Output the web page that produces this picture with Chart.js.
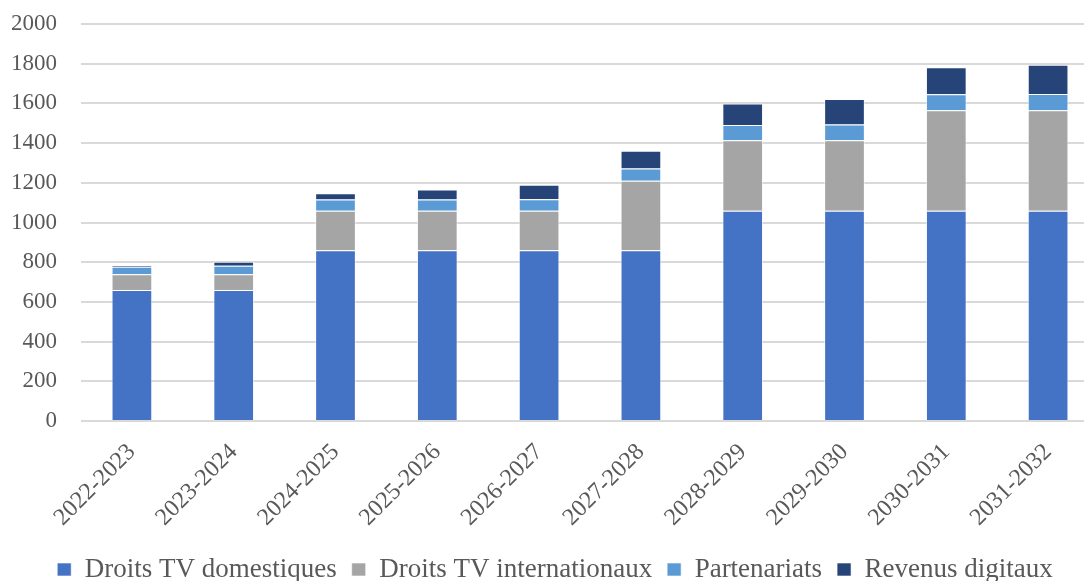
<!DOCTYPE html>
<html>
<head>
<meta charset="utf-8">
<script src="https://cdn.jsdelivr.net/npm/chart.js@4"></script>
<style>
  html, body { margin: 0; padding: 0; background: #fff; overflow: hidden; }
  #wrap { position: relative; width: 1099px; height: 593px; }
</style>
</head>
<body>
<div id="wrap"><canvas id="myChart"></canvas></div>
<script>
// saisons
const saisons = ['2022-2023', '2023-2024', '2024-2025', '2025-2026', '2026-2027',
                 '2027-2028', '2028-2029', '2029-2030', '2030-2031', '2031-2032'];
// revenus par poste
const droitsDomestiques = [660, 660, 860, 860, 860, 860, 1060, 1060, 1060, 1060];
const droitsInternationaux = [80, 80, 200, 200, 200, 350, 355, 355, 505, 505];
const partenariats = [37, 42, 56, 56, 57, 62, 76, 79, 81, 82];
const revenusDigitaux = [9, 20, 31, 50, 74, 89, 109, 128, 136, 148];
const yTicks = [0, 200, 400, 600, 800, 1000, 1200, 1400, 1600, 1800, 2000];

const police = "'Liberation Serif', 'DejaVu Serif', serif";

function serie(label, data, couleur) {
    return {
        label: label,
        data: data,
        backgroundColor: couleur,
        borderColor: 'rgba(255,255,255,0.6)',
        borderWidth: 1,
        barPercentage: 0.4,
        categoryPercentage: 1.0
    };
}

// on enlève les marges automatiques des axes (labels tournés, demi-hauteur des ticks)
function sansMarges(axis) {
    axis.paddingLeft = 0;
    axis.paddingRight = 0;
    axis.paddingTop = 0;
    axis.paddingBottom = 0;
}

const ctx = document.getElementById('myChart');
new Chart(ctx, {
    type: 'bar',
    data: {
        labels: saisons,
        datasets: [
            serie('Droits TV domestiques', droitsDomestiques, '#4472C4'),
            serie('Droits TV internationaux', droitsInternationaux, '#A5A5A5'),
            serie('Partenariats', partenariats, '#5B9BD5'),
            serie('Revenus digitaux', revenusDigitaux, '#264478')
        ]
    },
    options: {
        responsive: true,
        maintainAspectRatio: false,
        animation: false,
        layout: { padding: { top: 24, left: 11, right: 0, bottom: 0 } },
        plugins: {
            tooltip: { enabled: false },
            legend: {
                position: 'bottom',
                labels: {
                    boxWidth: 14,
                    boxHeight: 13,
                    padding: 15,
                    color: '#595959',
                    font: { family: police, size: 27 }
                }
            }
        },
        scales: {
            x: {
                stacked: true,
                afterFit: sansMarges,
                grid: { display: false },
                border: { display: false },
                ticks: {
                    minRotation: 45,
                    maxRotation: 45,
                    color: '#595959',
                    padding: 9,
                    font: { family: police, size: 24 }
                }
            },
            y: {
                stacked: true,
                min: 0,
                max: 2000,
                afterFit: function(axis) {
                    sansMarges(axis);
                    axis.width -= 24; // chart.js compte le padding deux fois
                },
                afterBuildTicks: function(axis) {
                    axis.ticks = yTicks.map(v => ({ value: v }));
                },
                grid: { color: '#D9D9D9', lineWidth: 2, drawTicks: false },
                border: { display: false },
                ticks: {
                    color: '#595959',
                    padding: 24,
                    font: { family: police, size: 23 },
                    callback: function(value) { return String(value); }
                }
            }
        }
    }
});
</script>
</body>
</html>
